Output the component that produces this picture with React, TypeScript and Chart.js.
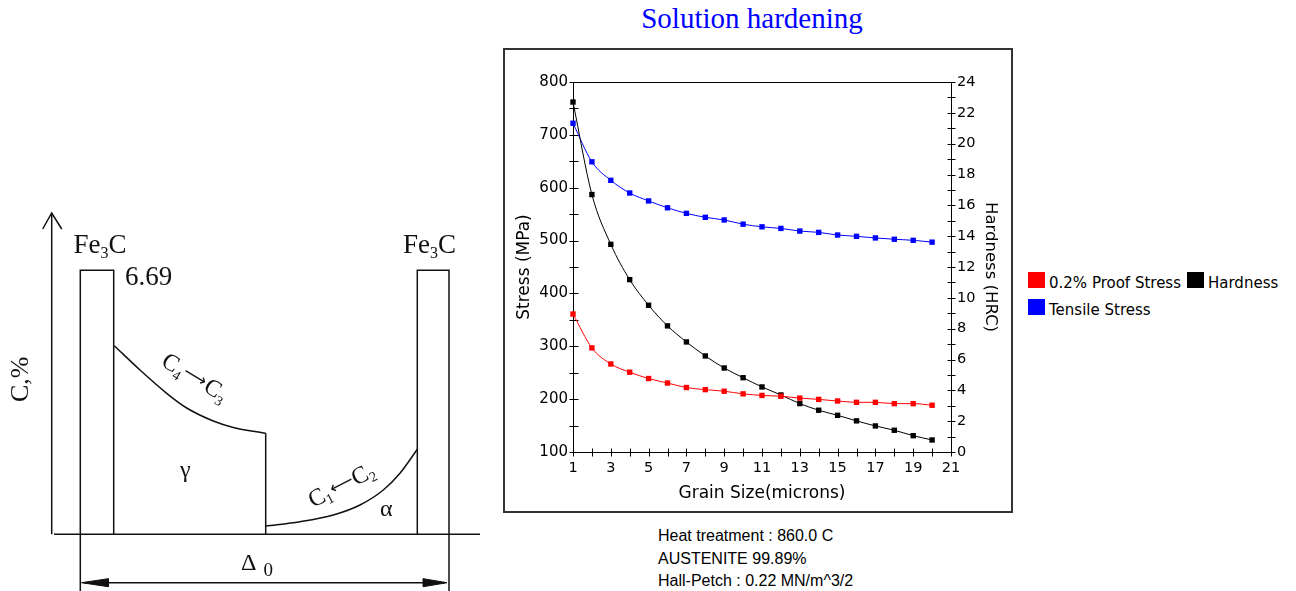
import React, { useEffect, useRef } from 'react';
import { Chart, registerables } from 'chart.js';

Chart.register(...registerables);

// ---------------- Main chart data ----------------
const grainSizes = [1, 2, 3, 4, 5, 6, 7, 8, 9, 10, 11, 12, 13, 14, 15, 16, 17, 18, 19, 20];
const proofStress = [361, 297, 266.5, 251, 239, 230.5, 222, 218, 215, 210, 207, 205.5, 202, 199.5, 196.5, 194, 194, 191.5, 191.5, 188.5];
const tensileStress = [722, 649, 614, 590, 575, 562, 551.5, 544, 539, 531, 526, 523, 518, 515.5, 510.5, 508, 505, 502.5, 500.5, 497];
const hardness = [22.7, 16.7, 13.47, 11.18, 9.52, 8.18, 7.14, 6.23, 5.45, 4.82, 4.22, 3.7, 3.14, 2.71, 2.38, 2.02, 1.69, 1.41, 1.06, 0.78];
const seriesNames = ['0.2% Proof Stress', 'Hardness', 'Tensile Stress'];
const seriesColors = ['#ff0000', '#000000', '#0000ff'];
const stressRange = [100, 800];
const stressStep = 50;
const stressLabelStep = 100;
const hardnessRange = [0, 24];
const hardnessStep = 1;
const hardnessLabelStep = 2;
const grainRange = [1, 21];
const chartTitle = 'Solution hardening';
const xTitle = 'Grain Size(microns)';
const yTitle = 'Stress (MPa)';
const y1Title = 'Hardness (HRC)';
const infoLines = ['Heat treatment : 860.0 C', 'AUSTENITE 99.89%', 'Hall-Petch : 0.22 MN/m^3/2'];

// ---------------- Diagram (schematic) data, in diagram units ----------------
const diagramWidth = 495;
const diagramHeight = 591;
const diagramYAxis = [{ x: 51.7, y: 534.3 }, { x: 51.7, y: 213 }];
const diagramYArrow = [{ x: 42.7, y: 229 }, { x: 51.7, y: 213 }, { x: 61.7, y: 229 }];
const diagramBaseline = [{ x: 54, y: 534.3 }, { x: 480, y: 534.3 }];
const leftCementite = [{ x: 80.3, y: 591 }, { x: 80.3, y: 270.3 }, { x: 113.7, y: 270.3 }, { x: 113.7, y: 534.3 }];
const rightCementite = [{ x: 417.3, y: 534.3 }, { x: 417.3, y: 270.3 }, { x: 449, y: 270.3 }, { x: 449, y: 591 }];
const gammaCurve = [
  { x: 114.3, y: 345.7 }, { x: 140, y: 370 }, { x: 166.7, y: 393.3 }, { x: 186.7, y: 408 },
  { x: 213.3, y: 421 }, { x: 233.3, y: 427.5 }, { x: 265.7, y: 433.3 },
];
const gammaStep = [{ x: 265.7, y: 433.3 }, { x: 265.7, y: 534.3 }];
const alphaCurve = [
  { x: 265.7, y: 526 }, { x: 300, y: 521.7 }, { x: 333.3, y: 515 }, { x: 360, y: 505 },
  { x: 383.3, y: 490 }, { x: 400, y: 473.3 }, { x: 417.3, y: 449.3 },
];
const dimensionLine = [{ x: 84, y: 582.7 }, { x: 445, y: 582.7 }];
const leftArrowHead = [{ x: 81.5, y: 582.7 }, { x: 108.3, y: 578.7 }, { x: 108.3, y: 586.7 }, { x: 81.5, y: 582.7 }];
const rightArrowHead = [{ x: 447, y: 582.7 }, { x: 423.3, y: 578.7 }, { x: 423.3, y: 586.7 }, { x: 447, y: 582.7 }];

const diagramTexts = [
  [{ t: 'Fe', s: 27 }, { t: '3', s: 16, dy: 5 }, { t: 'C', s: 27 }],
  [{ t: 'Fe', s: 27 }, { t: '3', s: 16, dy: 5 }, { t: 'C', s: 27 }],
  [{ t: '6.69', s: 27 }],
  [{ t: 'C,%', s: 26 }],
  [{ t: 'C', s: 24 }, { t: '4', s: 14, dy: 5 }, { t: '⟶', s: 17, dx: 1, dy: -3, sans: true }, { t: 'C', s: 24, dx: 1 }, { t: '3', s: 14, dy: 5 }],
  [{ t: 'C', s: 24 }, { t: '1', s: 14, dy: 4 }, { t: '⟵', s: 17, dx: 1, dy: -3, sans: true }, { t: 'C', s: 24, dx: 0 }, { t: '2', s: 14, dy: 4 }],
  [{ t: 'γ', s: 24 }],
  [{ t: 'α', s: 24 }],
  [{ t: 'Δ', s: 24 }, { t: '0', s: 19, dx: 7, dy: 6 }],
];
const diagramTextAnchors = [
  { x: 73.5, y: 253.3, a: 0 },
  { x: 403, y: 253.3, a: 0 },
  { x: 125, y: 285, a: 0 },
  { x: 28.3, y: 402, a: -90 },
  { x: 160, y: 365, a: 31 },
  { x: 313, y: 508, a: -27 },
  { x: 180, y: 477, a: 0 },
  { x: 380, y: 516, a: 0 },
  { x: 241, y: 570, a: 0 },
];

const SERIF = '"Liberation Serif", "Times New Roman", serif';
const SANS = '"DejaVu Sans", Verdana, sans-serif';

const diagramTextPlugin = {
  id: 'diagramText',
  afterDatasetsDraw(chart: any) {
    const { ctx } = chart;
    const xs = chart.scales.x;
    const ys = chart.scales.y;
    diagramTexts.forEach((parts, i) => {
      const anc = diagramTextAnchors[i];
      ctx.save();
      ctx.translate(xs.getPixelForValue(anc.x), ys.getPixelForValue(anc.y));
      ctx.rotate((anc.a * Math.PI) / 180);
      ctx.fillStyle = '#111';
      ctx.textAlign = 'left';
      ctx.textBaseline = 'alphabetic';
      let cx = 0;
      parts.forEach((p: any) => {
        ctx.font = `${p.s}px ${p.sans ? SANS : SERIF}`;
        cx += p.dx || 0;
        ctx.fillText(p.t, cx, p.dy || 0);
        cx += ctx.measureText(p.t).width;
      });
      ctx.restore();
    });
  },
};

function Diagram() {
  const ref = useRef<HTMLCanvasElement>(null);
  useEffect(() => {
    const lineDs = (data: any[], extra: any = {}) => ({
      data,
      showLine: true,
      borderColor: '#111',
      borderWidth: 1.5,
      pointRadius: 0,
      fill: false,
      tension: 0,
      clip: false,
      ...extra,
    });
    const chart = new Chart(ref.current as HTMLCanvasElement, {
      type: 'scatter',
      data: {
        datasets: [
          lineDs(diagramYAxis),
          lineDs(diagramYArrow),
          lineDs(diagramBaseline),
          lineDs(leftCementite),
          lineDs(rightCementite),
          lineDs(gammaCurve, { cubicInterpolationMode: 'monotone' }),
          lineDs(gammaStep),
          lineDs(alphaCurve, { cubicInterpolationMode: 'monotone' }),
          lineDs(dimensionLine),
          lineDs(leftArrowHead, { fill: 'shape', backgroundColor: '#111', borderWidth: 1 }),
          lineDs(rightArrowHead, { fill: 'shape', backgroundColor: '#111', borderWidth: 1 }),
        ] as any,
      },
      options: {
        responsive: false,
        animation: false,
        devicePixelRatio: 1,
        events: [],
        layout: { padding: 0 },
        scales: {
          x: { type: 'linear', display: false, min: 0, max: diagramWidth },
          y: { type: 'linear', display: false, min: 0, max: diagramHeight, reverse: true },
        },
        plugins: { legend: { display: false }, tooltip: { enabled: false } },
      } as any,
      plugins: [diagramTextPlugin],
    });
    return () => chart.destroy();
  }, []);
  return (
    <canvas
      ref={ref}
      width={diagramWidth}
      height={diagramHeight}
      style={{ position: 'absolute', left: 0, top: 0, width: diagramWidth, height: diagramHeight }}
    />
  );
}

const axisFramePlugin = {
  id: 'axisFrame',
  beforeDatasetsDraw(chart: any) {
    const { ctx, chartArea: a, scales } = chart;
    const L = Math.round(a.left) + 0.5;
    const R = Math.round(a.right) + 0.5;
    const T = Math.round(a.top) + 0.5;
    const B = Math.round(a.bottom) + 0.5;
    ctx.save();
    ctx.strokeStyle = '#000';
    ctx.lineWidth = 1;
    ctx.beginPath();
    ctx.rect(L, T, R - L, B - T);
    scales.x.ticks.forEach((t: any) => {
      const p = Math.round(scales.x.getPixelForValue(t.value)) + 0.5;
      ctx.moveTo(p, B - 4);
      ctx.lineTo(p, B + 4);
    });
    scales.y.ticks.forEach((t: any) => {
      const p = Math.round(scales.y.getPixelForValue(t.value)) + 0.5;
      ctx.moveTo(L - 4, p);
      ctx.lineTo(L + 5, p);
    });
    scales.y1.ticks.forEach((t: any) => {
      const p = Math.round(scales.y1.getPixelForValue(t.value)) + 0.5;
      ctx.moveTo(R - 4, p);
      ctx.lineTo(R + 4, p);
    });
    ctx.stroke();
    ctx.restore();
  },
};

const MAIN_W = 505;
const MAIN_H = 460;

function MainChart() {
  const ref = useRef<HTMLCanvasElement>(null);
  useEffect(() => {
    const seriesValues = [proofStress, hardness, tensileStress];
    const axisIds = ['y', 'y1', 'y'];
    const chart = new Chart(ref.current as HTMLCanvasElement, {
      type: 'line',
      data: {
        datasets: seriesNames.map((name, i) => ({
          label: name,
          data: grainSizes.map((g, j) => ({ x: g, y: seriesValues[i][j] })),
          yAxisID: axisIds[i],
          borderColor: seriesColors[i],
          backgroundColor: seriesColors[i],
          pointBackgroundColor: seriesColors[i],
          borderWidth: 1,
          pointStyle: 'rect',
          pointRadius: 3.8,
          pointBorderWidth: 0,
          cubicInterpolationMode: 'monotone',
          fill: false,
          clip: false,
        })) as any,
      },
      options: {
        responsive: false,
        animation: false,
        devicePixelRatio: 1,
        events: [],
        layout: { padding: { top: 32, left: 0, right: 0, bottom: 0 } },
        plugins: { legend: { display: false }, tooltip: { enabled: false }, title: { display: false } },
        scales: {
          x: {
            type: 'linear',
            position: 'bottom',
            min: grainRange[0],
            max: grainRange[1],
            grid: { display: false, drawTicks: false },
            border: { display: false },
            ticks: {
              stepSize: 1,
              autoSkip: false,
              maxRotation: 0,
              padding: 8,
              color: '#000',
              font: { family: SANS, size: 14.5 },
              callback: (v: any) => (Number(v) % 2 === 1 ? String(v) : ''),
            },
            title: { display: true, text: xTitle, color: '#000', font: { family: SANS, size: 17 }, padding: { top: 0, bottom: 6 } },
            afterFit: (s: any) => { s.height = 58; },
          },
          y: {
            type: 'linear',
            position: 'left',
            min: stressRange[0],
            max: stressRange[1],
            grid: { display: false, drawTicks: false },
            border: { display: false },
            ticks: {
              stepSize: stressStep,
              autoSkip: false,
              padding: 5,
              color: '#000',
              font: { family: SANS, size: 15 },
              callback: (v: any) => (Number(v) % stressLabelStep === 0 ? String(v) : ''),
            },
            title: { display: true, text: yTitle, color: '#000', font: { family: SANS, size: 17 }, padding: { top: 9, bottom: 0 } },
            afterFit: (s: any) => { s.width = 68; },
          },
          y1: {
            type: 'linear',
            position: 'right',
            min: hardnessRange[0],
            max: hardnessRange[1],
            grid: { display: false, drawTicks: false },
            border: { display: false },
            ticks: {
              stepSize: hardnessStep,
              autoSkip: false,
              padding: 6,
              color: '#000',
              font: { family: SANS, size: 14.5 },
              callback: (v: any) => (Number(v) % hardnessLabelStep === 0 ? String(v) : ''),
            },
            title: { display: true, text: y1Title, color: '#000', font: { family: SANS, size: 16.5 }, padding: { top: 10, bottom: 0 } },
            afterFit: (s: any) => { s.width = 59; },
          },
        },
      } as any,
      plugins: [axisFramePlugin],
    });
    return () => chart.destroy();
  }, []);
  return (
    <canvas
      ref={ref}
      width={MAIN_W}
      height={MAIN_H}
      style={{ position: 'absolute', left: 505, top: 50, width: MAIN_W, height: MAIN_H }}
    />
  );
}

export default function App() {
  return (
    <div
      style={{
        position: 'absolute',
        left: 0,
        top: 0,
        width: 1296,
        height: 591,
        background: '#fff',
        overflow: 'hidden',
      }}
    >
      <Diagram />
      <div
        style={{
          position: 'absolute',
          left: 552,
          width: 400,
          top: 4,
          textAlign: 'center',
          fontFamily: SERIF,
          fontSize: 29,
          lineHeight: '29px',
          color: '#0000ff',
          whiteSpace: 'nowrap',
        }}
      >
        {chartTitle}
      </div>
      <div
        style={{
          position: 'absolute',
          left: 503,
          top: 48,
          width: 510,
          height: 465,
          boxSizing: 'border-box',
          border: '2px solid #333',
        }}
      />
      <MainChart />
      <div
        style={{
          position: 'absolute',
          left: 1028,
          top: 272,
          width: 266,
          display: 'flex',
          flexWrap: 'wrap',
          fontFamily: SANS,
          fontSize: 15,
          color: '#000',
        }}
      >
        {seriesNames.map((name, i) => (
          <div key={name} style={{ display: 'flex', alignItems: 'flex-start', height: 27, marginRight: 6 }}>
            <div style={{ width: 17, height: 16, background: seriesColors[i], marginRight: 4 }} />
            <div style={{ lineHeight: '17px', marginTop: 3, whiteSpace: 'nowrap' }}>{name}</div>
          </div>
        ))}
      </div>
      <div
        style={{
          position: 'absolute',
          left: 658,
          top: 525,
          fontFamily: '"Liberation Sans", Arial, sans-serif',
          fontSize: 16,
          lineHeight: '22.5px',
          color: '#000',
          whiteSpace: 'nowrap',
        }}
      >
        {infoLines.map((l) => (
          <div key={l}>{l}</div>
        ))}
      </div>
    </div>
  );
}
